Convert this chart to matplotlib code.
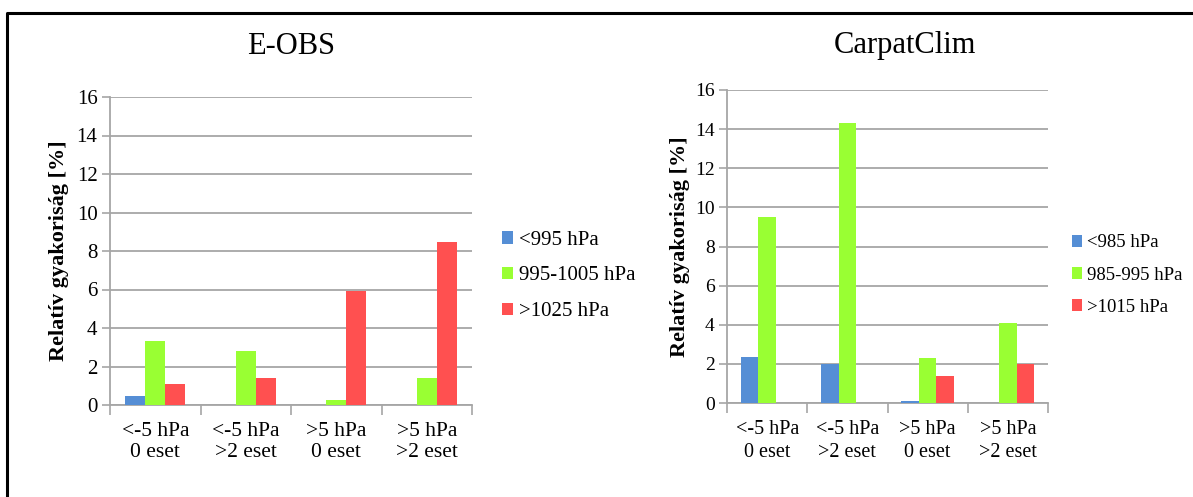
'''
Relative frequency of pressure classes, E-OBS vs CarpatClim
'''

import matplotlib
matplotlib.use("Agg")
import matplotlib.pyplot as plt
from matplotlib.lines import Line2D
from matplotlib.patches import Patch
import numpy as np

plt.rcParams['font.family'] = ['Liberation Serif', 'DejaVu Serif']

CATEGORIES = ["<-5 hPa\n0 eset", "<-5 hPa\n>2 eset", ">5 hPa\n0 eset", ">5 hPa\n>2 eset"]
COLORS = ["#558ED5", "#99FF33", "#FF5050"]

# E-OBS
eobs_labels = ["<995 hPa", "995-1005 hPa", ">1025 hPa"]
eobs_low = [0.45, 0.0, 0.0, 0.0]
eobs_mid = [3.35, 2.8, 0.25, 1.4]
eobs_high = [1.1, 1.4, 5.9, 8.45]

# CarpatClim
cc_labels = ["<985 hPa", "985-995 hPa", ">1015 hPa"]
cc_low = [2.35, 2.0, 0.08, 0.0]
cc_mid = [9.5, 14.3, 2.3, 4.1]
cc_high = [0.0, 0.0, 1.4, 2.0]

W, H = 1193, 497
GRID = "#A6A6A6"


def draw_panel(fig, rect, series, labels, title, title_xy, legend_xy, fs, xfs, lspace, lgfs):
    ax = fig.add_axes(rect)
    x = np.arange(len(CATEGORIES))
    bw = 0.22
    for i, (vals, col) in enumerate(zip(series, COLORS)):
        ax.bar(x + (i - 1) * bw, vals, width=bw, color=col, zorder=3)

    ax.set_xlim(-0.5, 3.5)
    ax.set_ylim(0, 16)
    ax.set_yticks(range(0, 17, 2))
    ax.yaxis.grid(True, color=GRID, linewidth=1.3, zorder=0)
    ax.tick_params(axis='y', labelsize=fs, length=6, width=1.2, color=GRID, pad=3)

    ax.set_xticks(x)
    ax.set_xticklabels(CATEGORIES, fontsize=xfs, linespacing=lspace)
    ax.tick_params(axis='x', which='major', length=0, pad=12)
    ax.set_xticks(np.arange(-0.5, 4.0, 1.0), minor=True)
    ax.tick_params(axis='x', which='minor', length=7, width=1.2, color=GRID)

    for s in ['top', 'right']:
        ax.spines[s].set_visible(False)
    for s in ['left', 'bottom']:
        ax.spines[s].set_color(GRID)
        ax.spines[s].set_linewidth(1.3)

    ax.set_ylabel("Relatív gyakoriság [%]", fontsize=16, fontweight='bold', va='center')

    fig.text(title_xy[0] / W, 1 - title_xy[1] / H, title, fontsize=22,
             ha='center', va='center')

    handles = [Patch(facecolor=c, edgecolor='none') for c in COLORS]
    fig.legend(handles, labels, loc='center left',
               bbox_to_anchor=(legend_xy[0] / W, 1 - legend_xy[1] / H),
               frameon=False, fontsize=lgfs, handlelength=0.55, handleheight=0.55,
               handletextpad=0.25, labelspacing=0.8, borderpad=0, borderaxespad=0)
    return ax


fig = plt.figure(figsize=(W / 100, H / 100), dpi=100)

ax1 = draw_panel(fig, [110 / W, 1 - 405 / H, 362 / W, 308 / H],
                 [eobs_low, eobs_mid, eobs_high], eobs_labels, "E-OBS",
                 (291, 47), (502, 276), 15, 15.5, 1.2, 15)
ax1.yaxis.set_label_coords(-0.141, 0.5)

ax2 = draw_panel(fig, [727 / W, 1 - 403 / H, 321 / W, 313 / H],
                 [cc_low, cc_mid, cc_high], cc_labels, "CarpatClim",
                 (905, 45), (1072, 275), 14, 14.5, 1.3, 13.5)
ax2.yaxis.set_label_coords(-0.146, 0.5)

# frame around the figure (only left and top edges fall inside)
fig.add_artist(Line2D([7.5 / W, 7.5 / W, 1.0], [0.0, 1 - 12.5 / H, 1 - 12.5 / H],
                      transform=fig.transFigure, color='black', linewidth=2.2))

fig.savefig("out.png", dpi=100)
